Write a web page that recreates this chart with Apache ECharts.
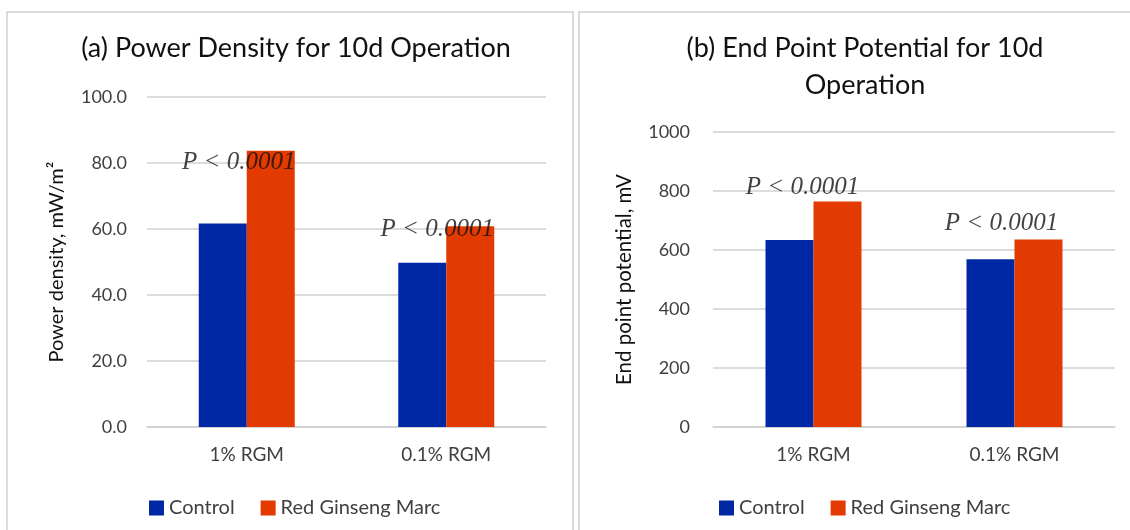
<!DOCTYPE html>
<html>
<head>
<meta charset="utf-8">
<script src="https://cdn.jsdelivr.net/npm/echarts@6/dist/echarts.min.js"></script>
<style>
html,body{margin:0;padding:0;background:#fff;}
#c{width:1130px;height:530px;}
</style>
</head>
<body>
<div id="c"></div>
<script>
var categories = ['1% RGM', '0.1% RGM'];
var seriesNames = ['Control', 'Red Ginseng Marc'];
var powerControl = [61.7, 49.8];
var powerRGM = [83.7, 60.8];
var potentialControl = [634, 569];
var potentialRGM = [764, 636];
var pText = 'P < 0.0001';
var powerPLabelAt = [80.3, 60.0];
var potentialPLabelAt = [813, 691];
var powerTicks = {min: 0, max: 100, interval: 20};
var potentialTicks = {min: 0, max: 1000, interval: 200};

var BLUE = '#0028A5', RED = '#E23A00';
var FONT = 'Lato';
var TXT = '#404040';

function pSeries(xi, vals, offs) {
  return {
    type: 'scatter', xAxisIndex: xi, yAxisIndex: xi, symbolSize: 1,
    itemStyle: {color: 'rgba(0,0,0,0)'}, silent: true, z: 10,
    data: vals.map(function (v, i) { return {value: [categories[i], v], label: {offset: [offs[i], 0]}}; }),
    label: {show: true, position: 'inside', formatter: pText,
      fontFamily: 'Liberation Serif', fontStyle: 'italic', fontSize: 25, color: '#111'}
  };
}

var chart = echarts.init(document.getElementById('c'), null, {renderer: 'canvas'});
chart.setOption({
  animation: false,
  backgroundColor: '#fff',
  textStyle: {fontFamily: FONT},
  graphic: [
    {type: 'rect', shape: {x: 7, y: 12, width: 566, height: 530}, style: {fill: 'none', stroke: '#cfcfcf', lineWidth: 1.5}, z: -1},
    {type: 'rect', shape: {x: 579, y: 12, width: 570, height: 530}, style: {fill: 'none', stroke: '#cfcfcf', lineWidth: 1.5}, z: -1}
  ],
  title: [
    {text: '(a) Power Density for 10d Operation', left: 291, top: 29.5, textAlign: 'center',
      textStyle: {fontFamily: FONT, fontSize: 27, fontWeight: 'normal', color: '#111'}},
    {text: '(b) End Point Potential for 10d\nOperation', left: 860, top: 24.5, textAlign: 'center',
      textStyle: {fontFamily: FONT, fontSize: 27, fontWeight: 'normal', color: '#111', lineHeight: 37}}
  ],
  legend: [
    {data: seriesNames, left: 144, top: 493, icon: 'rect', itemWidth: 15, itemHeight: 15, itemGap: 26,
      textStyle: {fontFamily: FONT, fontSize: 20, color: TXT}},
    {data: seriesNames, left: 714, top: 493, icon: 'rect', itemWidth: 15, itemHeight: 15, itemGap: 26,
      textStyle: {fontFamily: FONT, fontSize: 20, color: TXT}}
  ],
  grid: [
    {left: 147, right: 584, top: 97, bottom: 103},
    {left: 713, right: 15, top: 132, bottom: 103}
  ],
  xAxis: [0, 1].map(function (i) {
    return {type: 'category', gridIndex: i, data: categories,
      axisLine: {lineStyle: {color: '#d0d0d0', width: 1.5}}, axisTick: {show: false},
      axisLabel: {fontFamily: FONT, fontSize: 19, color: TXT, margin: 18}};
  }),
  yAxis: [
    {type: 'value', gridIndex: 0, min: powerTicks.min, max: powerTicks.max, interval: powerTicks.interval,
      name: 'Power density, mW/m\u00B2', nameLocation: 'middle', nameGap: 80,
      nameTextStyle: {fontFamily: FONT, fontSize: 20, color: '#111'},
      axisLine: {show: false}, axisTick: {show: false},
      splitLine: {lineStyle: {color: '#d0d0d0', width: 1.5}},
      axisLabel: {fontFamily: FONT, fontSize: 18, color: TXT, margin: 20, formatter: function (v) { return v.toFixed(1); }}},
    {type: 'value', gridIndex: 1, min: potentialTicks.min, max: potentialTicks.max, interval: potentialTicks.interval,
      name: 'End point potential, mV', nameLocation: 'middle', nameGap: 78,
      nameTextStyle: {fontFamily: FONT, fontSize: 20.5, color: '#111'},
      axisLine: {show: false}, axisTick: {show: false},
      splitLine: {lineStyle: {color: '#d0d0d0', width: 1.5}},
      axisLabel: {fontFamily: FONT, fontSize: 18, color: TXT, margin: 23, formatter: function (v) { return String(v); }}}
  ],
  series: [
    {name: seriesNames[0], type: 'bar', xAxisIndex: 0, yAxisIndex: 0, data: powerControl, barWidth: 48, barGap: '0%', itemStyle: {color: BLUE}},
    {name: seriesNames[1], type: 'bar', xAxisIndex: 0, yAxisIndex: 0, data: powerRGM, barWidth: 48, barGap: '0%', itemStyle: {color: RED}},
    {name: seriesNames[0], type: 'bar', xAxisIndex: 1, yAxisIndex: 1, data: potentialControl, barWidth: 48, barGap: '0%', itemStyle: {color: BLUE}},
    {name: seriesNames[1], type: 'bar', xAxisIndex: 1, yAxisIndex: 1, data: potentialRGM, barWidth: 48, barGap: '0%', itemStyle: {color: RED}},
    pSeries(0, powerPLabelAt, [-8, -9]),
    pSeries(1, potentialPLabelAt, [-11, -13])
  ]
});
</script>
</body>
</html>
